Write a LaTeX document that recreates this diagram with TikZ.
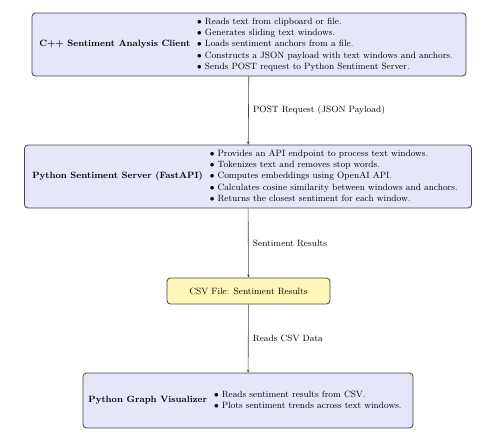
\documentclass[tikz,border=0pt]{standalone}
\usetikzlibrary{arrows.meta}
\definecolor{boxfill}{HTML}{E6E6FA}
\definecolor{csvfill}{HTML}{FFF7B8}
\definecolor{edgecol}{HTML}{444444}
\newcommand{\boxfont}{\fontsize{9.1}{11.3}\selectfont}
\begin{document}
\begin{tikzpicture}[x=1pt,y=-1pt,
  procbox/.style={draw=edgecol, line width=0.8pt, rounded corners=3.5pt, fill=boxfill, align=left, inner sep=0pt, font=\boxfont},
  filebox/.style={draw=edgecol, line width=0.8pt, rounded corners=3.5pt, fill=csvfill, inner sep=0pt, font=\boxfont},
  conn/.style={draw=edgecol, line width=0.6pt, -{Stealth[length=3pt,width=2.5pt]}},
  lbl/.style={font=\boxfont, anchor=west}]
\useasboundingbox (0,0) rectangle (492,442);
\fill[white] (0,0) rectangle (492,442);
\node[procbox, minimum width=434pt, minimum height=63pt] (client) at (249,44.5)
  {\begin{tabular}{@{}c@{\hspace{7pt}}l@{}}\textbf{C++ Sentiment Analysis Client} &
   \begin{tabular}[c]{@{}l@{}}
   $\bullet$ Reads text from clipboard or file.\\
   $\bullet$ Generates sliding text windows.\\
   $\bullet$ Loads sentiment anchors from a file.\\
   $\bullet$ Constructs a JSON payload with text windows and anchors.\\
   $\bullet$ Sends POST request to Python Sentiment Server.
   \end{tabular}\end{tabular}\hspace*{6pt}};
\node[procbox, minimum width=447pt, minimum height=63pt] (server) at (248,176.5)
  {\begin{tabular}{@{}c@{\hspace{7pt}}l@{}}\textbf{Python Sentiment Server (FastAPI)} &
   \begin{tabular}[c]{@{}l@{}}
   $\bullet$ Provides an API endpoint to process text windows.\\
   $\bullet$ Tokenizes text and removes stop words.\\
   $\bullet$ Computes embeddings using OpenAI API.\\
   $\bullet$ Calculates cosine similarity between windows and anchors.\\
   $\bullet$ Returns the closest sentiment for each window.
   \end{tabular}\end{tabular}\hspace*{6pt}};
\node[filebox, minimum width=163pt, minimum height=26pt] (csv) at (248.5,291)
  {CSV File: Sentiment Results};
\node[procbox, minimum width=330pt, minimum height=55pt] (viz) at (248,400.5)
  {\begin{tabular}{@{}c@{\hspace{7pt}}l@{}}\textbf{Python Graph Visualizer} &
   \begin{tabular}[c]{@{}l@{}}
   $\bullet$ Reads sentiment results from CSV.\\
   $\bullet$ Plots sentiment trends across text windows.
   \end{tabular}\end{tabular}\hspace*{6pt}};
\draw[conn] (client) -- node[lbl, xshift=1pt] {POST Request (JSON Payload)} (server);
\draw[conn] (server) -- node[lbl, xshift=1pt] {Sentiment Results} (csv);
\draw[conn] (csv) -- node[lbl, xshift=1pt] {Reads CSV Data} (viz);
\end{tikzpicture}
\end{document}
